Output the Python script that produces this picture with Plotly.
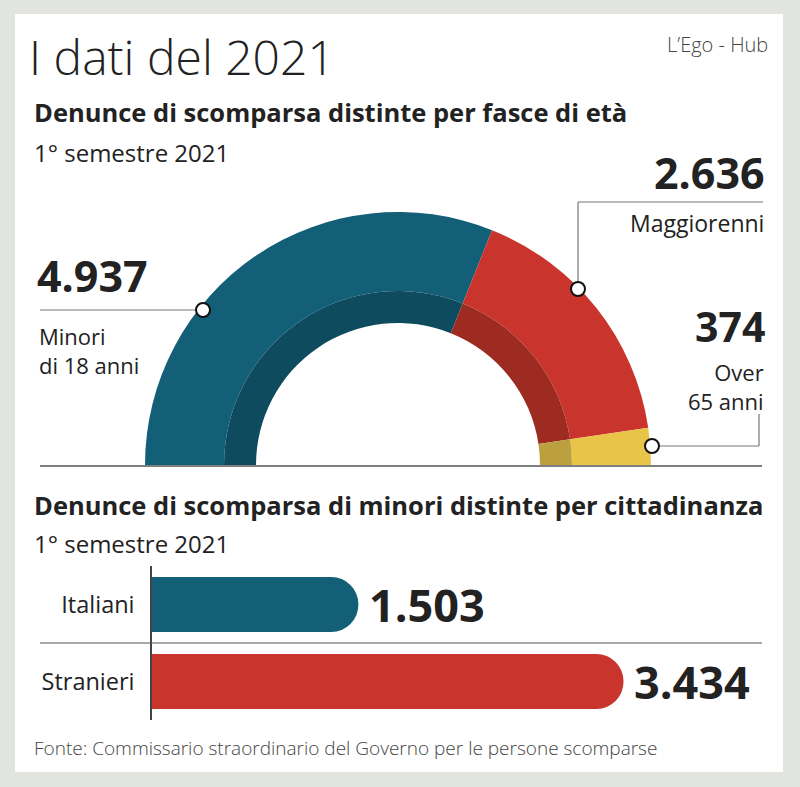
import plotly.graph_objects as go

# ---------------- data ----------------
age_groups = ["Minori di 18 anni", "Maggiorenni", "Over 65 anni"]
age_values = [4937, 2636, 374]
age_colors = ["#145f78", "#c9352c", "#e8c449"]
age_colors_dark = ["#0e4b5f", "#9d2b22", "#bc9f3f"]

nat_labels = ["Italiani", "Stranieri"]
nat_values = [1503, 3434]
nat_colors = ["#145f78", "#c9352c"]

W, H = 800, 787
FONT = "Open Sans"
DARK = "#222222"


def fmt(v):
    return f"{v:,}".replace(",", ".")


def px(x):
    return x / W


def py(y):
    return 1 - y / H


# semicircle geometry (pixels)
CX, CY = 398, 465
R_OUT, R_DARK, R_HOLE = 253, 174, 142

hidden = sum(age_values)
pie_vals = age_values + [hidden]

fig = go.Figure()

fig.add_trace(go.Pie(
    values=pie_vals,
    labels=age_groups + [""],
    sort=False,
    direction="clockwise",
    rotation=-90,
    hole=R_DARK / R_OUT,
    marker=dict(colors=age_colors + ["rgba(0,0,0,0)"], line=dict(width=0)),
    textinfo="none",
    hoverinfo="skip",
    showlegend=False,
    domain=dict(x=[px(CX - R_OUT), px(CX + R_OUT)], y=[py(CY + R_OUT), py(CY - R_OUT)]),
))
fig.add_trace(go.Pie(
    values=pie_vals,
    labels=age_groups + [""],
    sort=False,
    direction="clockwise",
    rotation=-90,
    hole=R_HOLE / R_DARK,
    marker=dict(colors=age_colors_dark + ["rgba(0,0,0,0)"], line=dict(width=0)),
    textinfo="none",
    hoverinfo="skip",
    showlegend=False,
    domain=dict(x=[px(CX - R_DARK), px(CX + R_DARK)], y=[py(CY + R_DARK), py(CY - R_DARK)]),
))

# horizontal bars
fig.add_trace(go.Bar(
    x=nat_values,
    y=nat_labels,
    orientation="h",
    marker=dict(color=nat_colors, cornerradius=27, line=dict(width=0)),
    hoverinfo="skip",
    showlegend=False,
    xaxis="x", yaxis="y",
))

AX_L, AX_R = 152, 760
PX_PER_UNIT = 0.1373

fig.update_layout(
    width=W, height=H,
    margin=dict(l=0, r=0, t=0, b=0),
    paper_bgcolor="#e2e4e0",
    plot_bgcolor="rgba(0,0,0,0)",
    bargap=1 - 55 / 77,
    font=dict(family=FONT, color=DARK),
    xaxis=dict(domain=[px(AX_L), px(AX_R)], range=[0, (AX_R - AX_L) / PX_PER_UNIT],
               visible=False, fixedrange=True),
    yaxis=dict(domain=[py(720), py(566)], autorange="reversed", showgrid=False,
               zeroline=False, showline=True, linecolor="#444444", linewidth=1.5,
               ticks="", ticklabelstandoff=11,
               tickfont=dict(family=FONT, size=23.5, color=DARK), fixedrange=True),
)

shapes = []
# white card
shapes.append(dict(type="rect", xref="paper", yref="paper", layer="below",
                   x0=px(15), x1=px(783), y0=py(772), y1=py(14),
                   fillcolor="white", line=dict(width=0)))


def line(x0, y0, x1, y1, color="#777777", width=1.2):
    shapes.append(dict(type="line", xref="paper", yref="paper",
                       x0=px(x0), y0=py(y0), x1=px(x1), y1=py(y1),
                       line=dict(color=color, width=width)))


# leader lines
line(40, 310, 203, 310)
line(578, 289, 578, 202)
line(578, 202, 763, 202)
line(652, 446, 759, 446)
line(759, 446, 759, 414)
# baseline under semicircle
line(40, 466, 762, 466, color="#555555", width=1.5)
# separator between bars
line(40, 643, 762, 643, color="#555555", width=1.2)

# marker circles
for (mx, my) in [(203, 310), (578, 289), (652, 446)]:
    r = 7
    shapes.append(dict(type="circle", xref="paper", yref="paper",
                       x0=px(mx - r), x1=px(mx + r), y0=py(my + r), y1=py(my - r),
                       fillcolor="white", line=dict(color="#111111", width=2)))

annotations = []


def text(t, x, y, size, xanchor="left", weight=400, color=DARK, align="left"):
    annotations.append(dict(text=t, x=px(x), y=py(y), xref="paper", yref="paper",
                            xanchor=xanchor, yanchor="middle", showarrow=False,
                            align=align,
                            font=dict(family=FONT, size=size, color=color, weight=weight)))


text("I dati del 2021", 27, 57, 48, weight=300)
text("L’Ego - Hub", 770, 45, 20, xanchor="right", weight=300, color="#444444")
text("Denunce di scomparsa distinte per fasce di età", 32, 112, 25.5, weight=700)
text("1° semestre 2021", 32, 152, 24)

text(fmt(age_values[1]), 767, 172, 43, xanchor="right", weight=700)
text("Maggiorenni", 766, 223, 23, xanchor="right")
text(fmt(age_values[0]), 35, 275, 43, weight=700)
text("Minori<br>di 18 anni", 37, 350, 22)
text(fmt(age_values[2]), 767, 326, 41, xanchor="right", weight=700)
text("Over<br>65 anni", 766, 386, 22, xanchor="right", align="right")

text("Denunce di scomparsa di minori distinte per cittadinanza", 32, 505, 25.5, weight=700)
text("1° semestre 2021", 32, 543, 24)
text("Fonte: Commissario straordinario del Governo per le persone scomparse",
     32, 748, 19, weight=300, color="#444444")

# bar value labels, positioned through the bar axes
for lab, v in zip(nat_labels, nat_values):
    annotations.append(dict(text=fmt(v), x=v, y=lab, xref="x", yref="y",
                            xanchor="left", yanchor="middle", xshift=9, showarrow=False,
                            font=dict(family=FONT, size=45, color=DARK, weight=700)))

fig.update_layout(shapes=shapes, annotations=annotations)

fig.write_html("out.html", config={"displayModeBar": False},
               post_script="document.body.style.margin='0';")
